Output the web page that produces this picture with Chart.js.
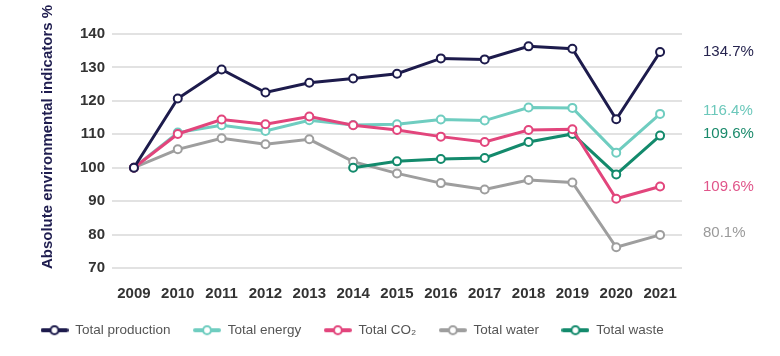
<!DOCTYPE html>
<html><head><meta charset="utf-8">
<script src="https://cdn.jsdelivr.net/npm/chart.js@4/dist/chart.umd.min.js"></script>
<style>html,body{margin:0;padding:0;background:#fff}#wrap{width:780px;height:356px}</style>
</head><body><div id="wrap"><canvas id="c" width="780" height="356"></canvas></div>
<script>
const years = ['2009','2010','2011','2012','2013','2014','2015','2016','2017','2018','2019','2020','2021'];
const production = [100, 120.7, 129.4, 122.5, 125.4, 126.7, 128.1, 132.7, 132.4, 136.3, 135.6, 114.5, 134.6];
const energy     = [100, 110.5, 112.7, 111.0, 114.2, 112.8, 113.0, 114.4, 114.1, 118.0, 117.9, 104.5, 116.1];
const co2        = [100, 110.1, 114.4, 113.0, 115.3, 112.7, 111.3, 109.3, 107.7, 111.3, 111.5, 90.7, 94.4];
const water      = [100, 105.5, 108.8, 107.0, 108.5, 101.8, 98.3, 95.4, 93.5, 96.3, 95.6, 76.2, 79.9];
const waste      = [null, null, null, null, null, 100, 101.9, 102.6, 102.9, 107.7, 110.1, 98.0, 109.6];
const seriesNames = ['Total production', 'Total energy', 'Total CO\u2082', 'Total water', 'Total waste'];
const endLabels = ['134.7%', '116.4%', '109.6%', '80.1%', '109.6%'];
const yTicks = [70, 80, 90, 100, 110, 120, 130, 140];
const axisTitle = 'Absolute environmental indicators %';

const colors = ['#1d1b4c', '#6fcdc0', '#e2457c', '#9e9e9e', '#138a6c'];
const labelColors = ['#26244f', '#6cc8bb', '#e0558a', '#9a9a9a', '#1a8a6b'];
const labelNudge = [0, -3, 0, -2, -2];
const drawOrder = [0, 2, 1, 4, 3];

function legendMarker(color) {
  const c = document.createElement('canvas');
  c.width = 28; c.height = 12;
  const x = c.getContext('2d');
  x.strokeStyle = color; x.lineWidth = 4; x.lineCap = 'round';
  x.beginPath(); x.moveTo(2, 6); x.lineTo(26, 6); x.stroke();
  x.fillStyle = '#fff'; x.lineWidth = 2.2;
  x.beginPath(); x.arc(14, 6, 4, 0, Math.PI * 2); x.fill(); x.stroke();
  return c;
}
const markers = colors.map(legendMarker);

const allData = [production, energy, co2, water, waste];
const datasets = allData.map((d, i) => ({
  label: seriesNames[i],
  data: d,
  borderColor: colors[i],
  backgroundColor: '#fff',
  borderWidth: 3,
  pointRadius: 4,
  pointBorderWidth: 2,
  pointBackgroundColor: '#fff',
  pointBorderColor: colors[i],
  tension: 0,
  spanGaps: false,
  order: drawOrder[i],
  yAxisID: 'y'
}));

const endLabelPlugin = {
  id: 'endLabels',
  afterDatasetsDraw(chart) {
    const ctx = chart.ctx;
    ctx.save();
    ctx.font = '15px "Liberation Sans", Arial, sans-serif';
    ctx.textBaseline = 'middle';
    ctx.textAlign = 'left';
    chart.data.datasets.forEach((ds, i) => {
      const meta = chart.getDatasetMeta(i);
      const pt = meta.data[meta.data.length - 1];
      ctx.fillStyle = labelColors[i];
      ctx.fillText(endLabels[i], chart.chartArea.right + 21, pt.y + labelNudge[i]);
    });
    ctx.restore();
  }
};

const titlePlugin = {
  id: 'yTitle',
  afterDraw(chart) {
    const ctx = chart.ctx;
    ctx.save();
    ctx.translate(48, 137);
    ctx.rotate(-Math.PI / 2);
    ctx.font = 'bold 15px "Liberation Sans", Arial, sans-serif';
    ctx.fillStyle = '#1f1d4f';
    ctx.textAlign = 'center';
    ctx.textBaseline = 'middle';
    ctx.fillText(axisTitle, 0, 0);
    ctx.restore();
  }
};

new Chart(document.getElementById('c'), {
  type: 'line',
  data: { labels: years, datasets },
  options: {
    responsive: false,
    devicePixelRatio: 1,
    animation: false,
    layout: { padding: { left: 18, right: 0, top: 34, bottom: 9 } },
    plugins: {
      tooltip: { enabled: false },
      legend: {
        position: 'bottom',
        align: 'start',
        labels: {
          usePointStyle: true,
          pointStyleWidth: 28,
          boxHeight: 12,
          padding: 22.5,
          color: '#555',
          font: { family: '"Liberation Sans", Arial, sans-serif', size: 13.5 },
          generateLabels(chart) {
            return chart.data.datasets.map((ds, i) => ({
              text: ds.label,
              pointStyle: markers[i],
              fillStyle: colors[i],
              strokeStyle: colors[i],
              fontColor: '#555',
              lineWidth: 0,
              hidden: false,
              datasetIndex: i
            }));
          }
        }
      }
    },
    scales: {
      x: {
        offset: true,
        afterFit(scale) { scale.height = 33; },
        grid: { display: false, drawTicks: false },
        border: { display: false },
        ticks: { color: '#333', padding: 17, font: { family: '"Liberation Sans", Arial, sans-serif', size: 15, weight: 'bold' } }
      },
      y: {
        position: 'left',
        min: yTicks[0],
        max: yTicks[yTicks.length - 1],
        afterBuildTicks(scale) { scale.ticks = yTicks.map(v => ({ value: v })); },
        afterFit(scale) { scale.width = 94; },
        grid: { color: '#e2e2e2', lineWidth: 2, drawTicks: false },
        border: { display: false },
        ticks: { color: '#333', padding: 7, font: { family: '"Liberation Sans", Arial, sans-serif', size: 15, weight: 'bold' } }
      },
      yRight: {
        type: 'linear',
        position: 'right',
        min: yTicks[0],
        max: yTicks[yTicks.length - 1],
        afterFit(scale) { scale.width = 98; },
        grid: { display: false, drawTicks: false },
        border: { display: false },
        ticks: { display: false }
      }
    }
  },
  plugins: [endLabelPlugin, titlePlugin]
});
</script>
</body></html>
